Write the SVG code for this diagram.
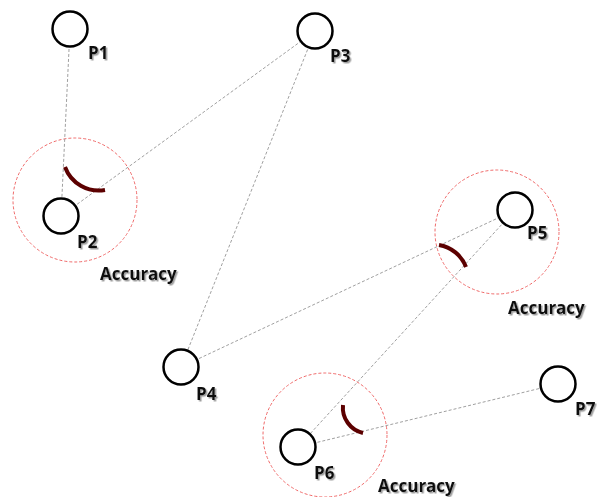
<svg xmlns="http://www.w3.org/2000/svg" width="598" height="497" viewBox="0 0 598 497">
  <style>
    .link { stroke: #a0a0a0; stroke-width: 1; stroke-dasharray: 3 2; fill: none; }
    .zone { stroke: #f06a6a; stroke-width: 1; stroke-dasharray: 3 2; fill: none; }
    .pt { fill: #ffffff; stroke: #000000; stroke-width: 2.5; }
    .angle { fill: none; stroke: #5c0000; stroke-width: 4; }
    .lbl { font-family: "Open Sans", "Noto Sans", sans-serif; font-weight: 700; font-size: 17px; fill: #111111; filter: url(#shadow); }
  </style>
  <defs>
    <filter id="shadow" x="-20%" y="-30%" width="140%" height="160%">
      <feDropShadow dx="1.5" dy="1.5" stdDeviation="0.7" flood-color="#777777" flood-opacity="0.7"/>
    </filter>
  </defs>

  <!-- accuracy zones -->
  <g id="zones">
    <circle class="zone" cx="75" cy="200" r="62"/>
    <circle class="zone" cx="497" cy="232" r="62"/>
    <circle class="zone" cx="325" cy="435" r="62"/>
  </g>

  <!-- connectors -->
  <g id="connectors">
    <line class="link" x1="70" y1="29" x2="61" y2="216"/>
    <line class="link" x1="61" y1="216" x2="315" y2="31"/>
    <line class="link" x1="315" y1="31" x2="181" y2="367"/>
    <line class="link" x1="181" y1="367" x2="515" y2="210"/>
    <line class="link" x1="515" y1="210" x2="298" y2="447"/>
    <line class="link" x1="298" y1="447" x2="558" y2="384"/>
  </g>

  <!-- angle markers -->
  <g id="angles">
    <path class="angle" d="M65,167 A36,36 0 0,0 105,190"/>
    <path class="angle" d="M439,245 A35,35 0 0,1 466,267"/>
    <path class="angle" d="M343,405 A26,26 0 0,0 363,433"/>
  </g>

  <g id="P1">
    <circle class="pt" cx="70" cy="29" r="17.5"/>
    <text class="lbl" x="88" y="59">P1</text>
  </g>
  <g id="P2">
    <circle class="pt" cx="61" cy="216" r="17.5"/>
    <text class="lbl" x="77" y="248">P2</text>
    <text class="lbl" x="100" y="280">Accuracy</text>
  </g>
  <g id="P3">
    <circle class="pt" cx="315" cy="31" r="17.5"/>
    <text class="lbl" x="330" y="62">P3</text>
  </g>
  <g id="P4">
    <circle class="pt" cx="181" cy="367" r="17.5"/>
    <text class="lbl" x="196" y="400">P4</text>
  </g>
  <g id="P5">
    <circle class="pt" cx="515" cy="210" r="17.5"/>
    <text class="lbl" x="527" y="239">P5</text>
    <text class="lbl" x="508" y="314">Accuracy</text>
  </g>
  <g id="P6">
    <circle class="pt" cx="298" cy="447" r="17.5"/>
    <text class="lbl" x="314" y="479">P6</text>
    <text class="lbl" x="378" y="492">Accuracy</text>
  </g>
  <g id="P7">
    <circle class="pt" cx="558" cy="384" r="17.5"/>
    <text class="lbl" x="575" y="415">P7</text>
  </g>
</svg>
